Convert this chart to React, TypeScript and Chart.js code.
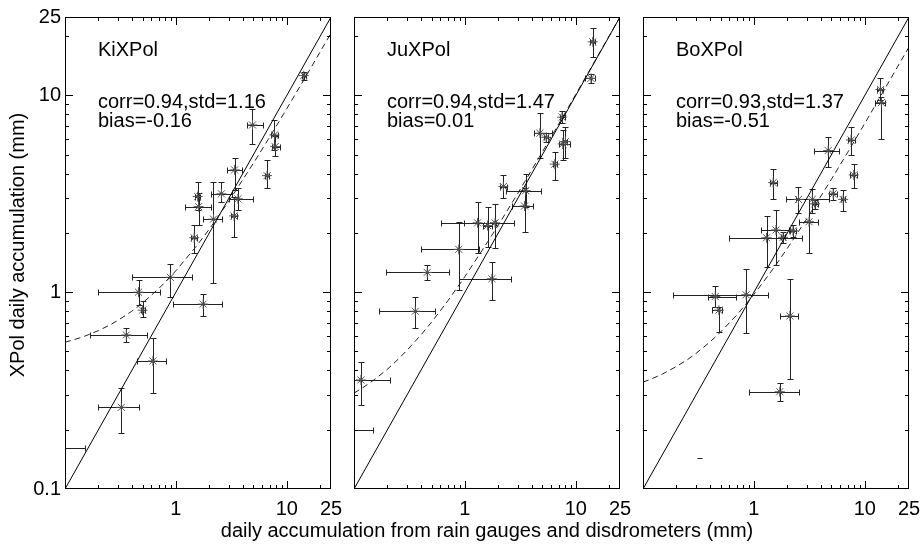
import React, { useEffect, useRef } from 'react';
import { Chart, registerables } from 'chart.js';

Chart.register(...registerables);

// ---------- axes ----------
const AXIS_MIN = 0.1;
const AXIS_MAX = 25;
const yTickValues = [0.1, 1, 10, 25];
const yTickLabels = ['0.1', '1', '10', '25'];
const xTickValues = [1, 10, 25];
const xTickLabels = ['1', '10', '25'];
const majorTicks = [1, 10];
const minorTicks = [0.2, 0.3, 0.4, 0.5, 0.6, 0.7, 0.8, 0.9, 2, 3, 4, 5, 6, 7, 8, 9, 20];

// ---------- reference lines ----------
const oneToOne = [0.1, 25];
const fitX = [0.1, 0.12, 0.15, 0.2, 0.25, 0.3, 0.4, 0.5, 0.7, 1, 1.5, 2, 3, 5, 7, 10, 15, 25];
const kiFitY = [0.557, 0.573, 0.597, 0.638, 0.678, 0.719, 0.8, 0.881, 1.042, 1.285, 1.69, 2.09, 2.9, 4.52, 6.14, 8.57, 12.6, 20.7];
const juFitY = [0.307, 0.327, 0.357, 0.406, 0.456, 0.506, 0.605, 0.704, 0.902, 1.2, 1.7, 2.19, 3.18, 5.17, 7.15, 10.13, 15.1, 25.0];
const boFitY = [0.349, 0.363, 0.384, 0.419, 0.453, 0.488, 0.557, 0.627, 0.765, 0.973, 1.32, 1.67, 2.36, 3.75, 5.13, 7.21, 10.7, 17.6];

// ---------- KiXPol ----------
const kiX = [14.2, 4.9, 7.73, 7.85, 6.63, 3.38, 2.57, 3.62, 1.57, 1.6, 2.18, 3.34, 1.46, 0.89, 0.46, 0.5, 1.76, 0.357, 0.62, 0.322, 0.08];
const kiY = [12.6, 7.07, 6.29, 5.49, 3.91, 4.18, 3.16, 2.98, 3.06, 2.72, 2.35, 2.44, 1.89, 1.19, 1.0, 0.81, 0.87, 0.606, 0.447, 0.26, 0.162];
const kiXLo = [13.6, 4.39, 7.2, 7.3, 6.3, 2.91, 2.06, 3.01, 1.5, 1.21, 1.76, 3.15, 1.38, 0.405, 0.199, 0.48, 0.935, 0.167, 0.445, 0.199, 0.05];
const kiXHi = [14.8, 6.07, 8.3, 8.6, 6.9, 3.96, 3.22, 4.94, 1.65, 2.06, 2.62, 3.55, 1.55, 1.39, 0.725, 0.53, 2.62, 0.547, 0.815, 0.46, 0.151];
const kiYLo = [12.0, 5.66, 5.3, 4.9, 3.37, 3.31, 2.88, 2.6, 2.6, 2.19, 1.11, 1.91, 1.58, 0.95, 0.86, 0.75, 0.76, 0.556, 0.309, 0.193, 0.162];
const kiYHi = [13.2, 8.5, 7.5, 6.2, 4.69, 4.79, 3.64, 3.37, 3.64, 3.2, 3.64, 3.06, 2.19, 1.39, 1.15, 0.9, 0.98, 0.656, 0.583, 0.325, 0.162];
const kiMarker = [1, 1, 1, 1, 1, 1, 1, 1, 1, 1, 1, 1, 1, 1, 1, 1, 1, 1, 1, 1, 1];

// ---------- JuXPol ----------
const juX = [14.2, 13.7, 7.51, 4.74, 5.4, 7.62, 8.05, 6.46, 2.22, 3.53, 3.45, 1.3, 1.6, 1.87, 0.88, 0.457, 1.75, 0.357, 0.1155, 0.08];
const juY = [18.7, 12.2, 7.74, 6.42, 6.12, 5.66, 5.82, 4.47, 3.44, 3.28, 2.74, 2.25, 2.18, 2.25, 1.65, 1.26, 1.17, 0.8, 0.358, 0.2];
const juXLo = [13.5, 12.2, 7.2, 4.19, 5.2, 7.01, 7.7, 6.2, 2.05, 2.34, 2.64, 0.61, 1.45, 0.99, 0.398, 0.196, 0.89, 0.167, 0.09, 0.05];
const juXHi = [15.0, 14.9, 7.9, 6.11, 5.6, 8.93, 8.4, 6.7, 2.4, 4.81, 4.1, 1.9, 1.75, 2.77, 1.35, 0.714, 2.59, 0.54, 0.21, 0.149];
const juYLo = [15.7, 11.6, 7.2, 4.79, 5.8, 4.69, 4.8, 3.72, 3.0, 2.72, 2.03, 1.58, 1.7, 1.67, 1.02, 1.15, 0.91, 0.66, 0.267, 0.2];
const juYHi = [21.9, 12.9, 8.3, 8.1, 6.4, 6.67, 6.9, 5.18, 3.94, 4.0, 3.37, 2.88, 2.72, 2.81, 2.28, 1.37, 1.43, 0.94, 0.443, 0.2];
const juMarker = [1, 1, 1, 1, 1, 1, 1, 1, 1, 1, 1, 1, 1, 1, 1, 1, 1, 1, 1, 1];

// ---------- BoXPol ----------
const boX = [13.8, 14.1, 7.51, 4.67, 7.94, 1.49, 5.18, 6.37, 3.36, 3.55, 2.52, 3.14, 2.25, 1.58, 1.3, 1.83, 0.85, 0.448, 0.483, 2.11, 1.71, 0.32];
const boY = [10.7, 9.18, 5.93, 5.24, 3.94, 3.6, 3.16, 2.96, 2.96, 2.81, 2.96, 2.28, 2.05, 2.07, 1.89, 1.9, 0.97, 0.95, 0.81, 0.757, 0.312, 0.143];
const boXLo = [13.0, 12.4, 7.0, 3.48, 7.4, 1.4, 4.8, 6.1, 2.38, 3.35, 1.94, 2.55, 2.1, 1.16, 0.6, 1.75, 0.187, 0.385, 0.42, 1.73, 0.897, 0.305];
const boXHi = [14.6, 15.3, 8.1, 5.82, 8.5, 1.6, 5.6, 6.6, 4.74, 3.75, 3.36, 3.81, 2.4, 2.08, 2.73, 1.92, 1.33, 0.69, 0.52, 2.5, 2.55, 0.338];
const boYLo = [9.5, 5.98, 4.98, 4.34, 3.37, 2.96, 2.95, 2.59, 2.52, 2.65, 2.52, 1.58, 1.9, 1.37, 1.35, 1.78, 0.62, 0.84, 0.63, 0.361, 0.281, 0.143];
const boYHi = [12.2, 9.85, 6.93, 6.17, 4.48, 4.21, 3.4, 3.31, 3.34, 2.95, 3.44, 2.96, 2.2, 2.62, 2.44, 2.02, 1.31, 1.07, 0.84, 1.16, 0.347, 0.143];
const boMarker = [1, 1, 1, 1, 1, 1, 1, 1, 1, 1, 1, 1, 1, 1, 1, 1, 1, 1, 1, 1, 1, 0];

// ---------- annotations ----------
const panelNames = ['KiXPol', 'JuXPol', 'BoXPol'];
const panelStats = ['corr=0.94,std=1.16', 'corr=0.94,std=1.47', 'corr=0.93,std=1.37'];
const panelBias = ['bias=-0.16', 'bias=0.01', 'bias=-0.51'];

const yTitle = 'XPol daily accumulation (mm)';
const xTitle = 'daily accumulation from rain gauges and disdrometers (mm)';

const FONT = '"Liberation Sans", Arial, Helvetica, sans-serif';

type PanelData = {
  x: number[]; y: number[]; xlo: number[]; xhi: number[]; ylo: number[]; yhi: number[];
  marker: number[]; fitY: number[];
};

const panels: PanelData[] = [
  { x: kiX, y: kiY, xlo: kiXLo, xhi: kiXHi, ylo: kiYLo, yhi: kiYHi, marker: kiMarker, fitY: kiFitY },
  { x: juX, y: juY, xlo: juXLo, xhi: juXHi, ylo: juYLo, yhi: juYHi, marker: juMarker, fitY: juFitY },
  { x: boX, y: boY, xlo: boXLo, xhi: boXHi, ylo: boYLo, yhi: boYHi, marker: boMarker, fitY: boFitY },
];

// layout of the three plot boxes (pixels)
const CANVAS_W = 980;
const CANVAS_H = 547;
const PLOT_TOP = 17;
const PLOT_LEFT = [65, 354, 643];
const PLOT_RIGHT = [331, 620, 909];
const XAXIS_H = 58;

function makeDecoPlugin(idx: number) {
  const p = panels[idx];
  return {
    id: 'deco' + idx,
    beforeDatasetsDraw(chart: any) {
      const { ctx, chartArea: a, scales } = chart;
      const xs = scales.x, ys = scales.y;
      ctx.save();
      ctx.beginPath();
      ctx.rect(a.left, a.top, a.right - a.left, a.bottom - a.top);
      ctx.clip();
      ctx.strokeStyle = '#222';
      ctx.lineWidth = 1;
      for (let i = 0; i < p.x.length; i++) {
        const cap = p.marker[i] ? 3 : 0;
        const px = Math.round(xs.getPixelForValue(p.x[i])) + 0.5;
        const py = Math.round(ys.getPixelForValue(p.y[i])) + 0.5;
        const x0 = Math.round(xs.getPixelForValue(p.xlo[i])) + 0.5;
        const x1 = Math.round(xs.getPixelForValue(p.xhi[i])) + 0.5;
        const y0 = Math.round(ys.getPixelForValue(p.ylo[i])) + 0.5;
        const y1 = Math.round(ys.getPixelForValue(p.yhi[i])) + 0.5;
        ctx.beginPath();
        if (x1 - x0 >= 2) {
          ctx.moveTo(x0, py); ctx.lineTo(x1, py);
          if (cap) {
            ctx.moveTo(x0, py - cap); ctx.lineTo(x0, py + cap);
            ctx.moveTo(x1, py - cap); ctx.lineTo(x1, py + cap);
          }
        }
        if (y0 - y1 >= 2) {
          ctx.moveTo(px, y0); ctx.lineTo(px, y1);
          if (cap) {
            ctx.moveTo(px - cap, y0); ctx.lineTo(px + cap, y0);
            ctx.moveTo(px - cap, y1); ctx.lineTo(px + cap, y1);
          }
        }
        ctx.stroke();
      }
      ctx.restore();
    },
    afterDraw(chart: any) {
      const { ctx, chartArea: a, scales } = chart;
      const xs = scales.x, ys = scales.y;
      ctx.save();
      ctx.strokeStyle = '#000';
      ctx.lineWidth = 1;
      // box
      ctx.strokeRect(a.left + 0.5, a.top + 0.5, a.right - a.left - 1, a.bottom - a.top - 1);
      // inward ticks on all four sides
      ctx.beginPath();
      const all = [...majorTicks.map((v) => [v, 8]), ...minorTicks.map((v) => [v, 4])];
      for (const [v, len] of all) {
        const px = Math.round(xs.getPixelForValue(v)) + 0.5;
        ctx.moveTo(px, a.bottom); ctx.lineTo(px, a.bottom - len);
        ctx.moveTo(px, a.top); ctx.lineTo(px, a.top + len);
        const py = Math.round(ys.getPixelForValue(v)) + 0.5;
        ctx.moveTo(a.left, py); ctx.lineTo(a.left + len, py);
        ctx.moveTo(a.right, py); ctx.lineTo(a.right - len, py);
      }
      ctx.stroke();
      // annotation text
      ctx.fillStyle = '#000';
      ctx.font = '20px ' + FONT;
      ctx.textAlign = 'left';
      ctx.textBaseline = 'alphabetic';
      const tx = a.left + 33;
      ctx.fillText(panelNames[idx], tx, a.top + 38.5);
      ctx.fillText(panelStats[idx], tx, a.top + 90.5);
      ctx.fillText(panelBias[idx], tx, a.top + 110);
      // shared axis titles
      ctx.textBaseline = 'middle';
      ctx.textAlign = 'center';
      if (idx === 1) {
        ctx.fillText(xTitle, (a.left + a.right) / 2, 531);
      }
      if (idx === 0) {
        ctx.translate(18, 245);
        ctx.rotate(-Math.PI / 2);
        ctx.fillText(yTitle, 0, 0);
      }
      ctx.restore();
    },
  };
}

function buildConfig(idx: number): any {
  const p = panels[idx];
  const pts = p.x.map((v, i) => ({ x: v, y: p.y[i] }));
  const radii = p.marker.map((m) => (m ? 5 : 0));
  const dotRadii = p.marker.map((m) => (m ? 1.5 : 0));
  return {
    type: 'scatter',
    data: {
      datasets: [
        {
          data: oneToOne.map((v) => ({ x: v, y: v })),
          showLine: true,
          borderColor: '#000',
          borderWidth: 1,
          pointRadius: 0,
          clip: 0,
        },
        {
          data: fitX.map((v, i) => ({ x: v, y: p.fitY[i] })),
          showLine: true,
          borderColor: '#222',
          borderWidth: 1,
          borderDash: [6, 4],
          pointRadius: 0,
          clip: 0,
        },
        {
          data: pts,
          showLine: false,
          pointStyle: 'star',
          pointRadius: radii,
          borderColor: '#555',
          backgroundColor: '#555',
          pointBorderWidth: 1,
          clip: 0,
        },
        {
          data: pts,
          showLine: false,
          pointStyle: 'circle',
          pointRadius: dotRadii,
          backgroundColor: '#000',
          borderWidth: 0,
          pointBorderWidth: 0,
          clip: 0,
        },
      ],
    },
    options: {
      responsive: false,
      animation: false,
      events: [],
      layout: {
        padding: {
          left: idx === 0 ? 0 : PLOT_LEFT[idx],
          right: CANVAS_W - PLOT_RIGHT[idx],
          top: PLOT_TOP,
          bottom: 0,
        },
      },
      plugins: { legend: { display: false }, tooltip: { enabled: false } },
      scales: {
        x: {
          type: 'logarithmic',
          position: 'bottom',
          min: AXIS_MIN,
          max: AXIS_MAX,
          grid: { display: false, drawTicks: false },
          border: { display: false },
          afterBuildTicks: (s: any) => { s.ticks = xTickValues.map((v) => ({ value: v })); },
          afterFit: (s: any) => { s.height = XAXIS_H; },
          ticks: {
            autoSkip: false,
            maxRotation: 0,
            padding: 8,
            color: '#000',
            font: { family: FONT, size: 20 },
            callback: (v: any) => {
              const k = xTickValues.indexOf(Number(v));
              return k >= 0 ? xTickLabels[k] : '';
            },
          },
        },
        y: {
          type: 'logarithmic',
          position: 'left',
          display: idx === 0,
          min: AXIS_MIN,
          max: AXIS_MAX,
          grid: { display: false, drawTicks: false },
          border: { display: false },
          afterBuildTicks: (s: any) => { s.ticks = yTickValues.map((v) => ({ value: v })); },
          afterFit: (s: any) => { s.width = idx === 0 ? PLOT_LEFT[0] : 0; },
          ticks: {
            autoSkip: false,
            padding: 4,
            color: '#000',
            font: { family: FONT, size: 20 },
            callback: (v: any) => {
              const k = yTickValues.indexOf(Number(v));
              return k >= 0 ? yTickLabels[k] : '';
            },
          },
        },
      },
    },
    plugins: [makeDecoPlugin(idx)],
  };
}

function Panel({ idx }: { idx: number }) {
  const ref = useRef<HTMLCanvasElement | null>(null);
  useEffect(() => {
    if (!ref.current) return;
    const chart = new Chart(ref.current, buildConfig(idx));
    return () => chart.destroy();
  }, [idx]);
  return (
    <canvas
      ref={ref}
      width={CANVAS_W}
      height={CANVAS_H}
      style={{ position: 'absolute', left: 0, top: 0, width: CANVAS_W, height: CANVAS_H, pointerEvents: 'none' }}
    />
  );
}

export default function App() {
  return (
    <div style={{ position: 'absolute', left: 0, top: 0, width: 920, height: 547, overflow: 'hidden', background: '#fff' }}>
      <Panel idx={0} />
      <Panel idx={1} />
      <Panel idx={2} />
    </div>
  );
}
